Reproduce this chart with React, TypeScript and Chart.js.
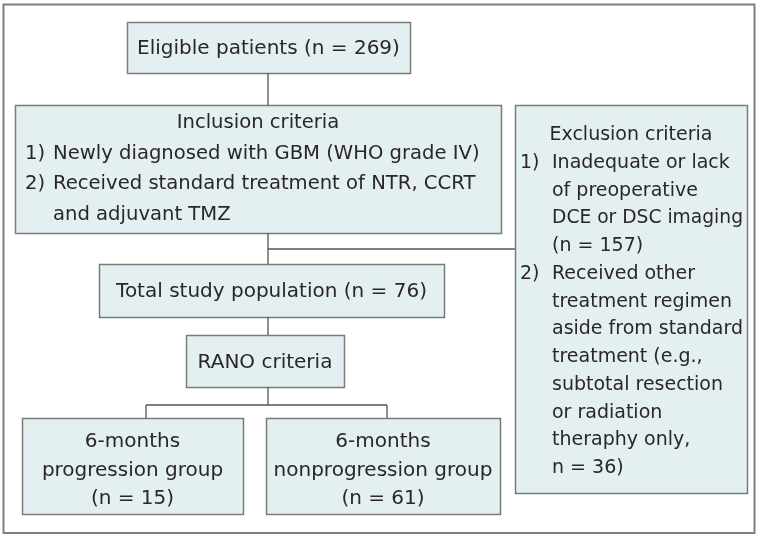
import React, { useEffect, useRef } from "react";
import { Chart, registerables } from "chart.js";

Chart.register(...registerables);

// ---- Content (text of the flowchart) ----
const eligibleLines = ["Eligible patients (n = 269)"];
const inclusionTitle = "Inclusion criteria";
const inclusionNumbers = ["1)", "2)"];
const inclusionItems = [
  ["Newly diagnosed with GBM (WHO grade IV)"],
  ["Received standard treatment of NTR, CCRT", "and adjuvant TMZ"],
];
const exclusionTitle = "Exclusion criteria";
const exclusionNumbers = ["1)", "2)"];
const exclusionItems = [
  ["Inadequate or lack", "of preoperative", "DCE or DSC imaging", "(n = 157)"],
  [
    "Received other",
    "treatment regimen",
    "aside from standard",
    "treatment (e.g.,",
    "subtotal resection",
    "or radiation",
    "theraphy only,",
    "n = 36)",
  ],
];
const totalLines = ["Total study population (n = 76)"];
const ranoLines = ["RANO criteria"];
const progressionLines = ["6-months", "progression group", "(n = 15)"];
const nonprogressionLines = ["6-months", "nonprogression group", "(n = 61)"];

// ---- Layout (in page units, mapped through the chart's scales) ----
const W = 761;
const H = 539;
const FRAME = { x0: 3.5, y0: 4.5, x1: 754.5, y1: 533 };
const BOX = {
  eligible: { x0: 127, y0: 22, x1: 410, y1: 73 },
  inclusion: { x0: 15, y0: 105, x1: 501, y1: 233 },
  exclusion: { x0: 515, y0: 105, x1: 747, y1: 493 },
  total: { x0: 99, y0: 264, x1: 444, y1: 317 },
  rano: { x0: 186, y0: 335, x1: 344, y1: 387 },
  progression: { x0: 22, y0: 418, x1: 243, y1: 514 },
  nonprogression: { x0: 266, y0: 418, x1: 500, y1: 514 },
};
const TRUNK_X = 268;
const EXCL_LINK_Y = 249;
const SPLIT_Y = 405;
const LEFT_BRANCH_X = 146;
const RIGHT_BRANCH_X = 387;

const FONT_FAMILY = "'DejaVu Sans', sans-serif";
const FONT_SIZE = 20;
const TEXT_COLOR = "#2b2627";
const BOX_FILL = "#e3eff1";
const BOX_BORDER = "#7b7b7b";
const LINE_COLOR = "#555555";
const FRAME_COLOR = "#808080";

const segments = [
  [
    { x: TRUNK_X, y: BOX.eligible.y1 },
    { x: TRUNK_X, y: BOX.inclusion.y0 },
  ],
  [
    { x: TRUNK_X, y: BOX.inclusion.y1 },
    { x: TRUNK_X, y: BOX.total.y0 },
  ],
  [
    { x: TRUNK_X, y: EXCL_LINK_Y },
    { x: BOX.exclusion.x0, y: EXCL_LINK_Y },
  ],
  [
    { x: TRUNK_X, y: BOX.total.y1 },
    { x: TRUNK_X, y: BOX.rano.y0 },
  ],
  [
    { x: TRUNK_X, y: BOX.rano.y1 },
    { x: TRUNK_X, y: SPLIT_Y },
  ],
  [
    { x: LEFT_BRANCH_X, y: SPLIT_Y },
    { x: RIGHT_BRANCH_X, y: SPLIT_Y },
  ],
  [
    { x: LEFT_BRANCH_X, y: SPLIT_Y },
    { x: LEFT_BRANCH_X, y: BOX.progression.y0 },
  ],
  [
    { x: RIGHT_BRANCH_X, y: SPLIT_Y },
    { x: RIGHT_BRANCH_X, y: BOX.nonprogression.y0 },
  ],
];

type Block =
  | { kind: "center"; lines: string[]; cx: number; base: number; lh: number; size: number }
  | {
      kind: "list";
      title: string;
      titleCx: number;
      numbers: string[];
      items: string[][];
      numX: number;
      textX: number;
      maxX: number;
      base: number;
      lh: number;
      size: number;
    };

const blocks: Block[] = [
  { kind: "center", lines: eligibleLines, cx: 268.5, base: 54, lh: 28, size: FONT_SIZE },
  {
    kind: "list",
    title: inclusionTitle,
    titleCx: 258,
    numbers: inclusionNumbers,
    items: inclusionItems,
    numX: 25,
    textX: 53,
    maxX: BOX.inclusion.x1 - 6,
    base: 128,
    lh: 30.5,
    size: 19.6,
  },
  {
    kind: "list",
    title: exclusionTitle,
    titleCx: 631,
    numbers: exclusionNumbers,
    items: exclusionItems,
    numX: 520,
    textX: 552,
    maxX: BOX.exclusion.x1 - 4,
    base: 140,
    lh: 27.75,
    size: 19,
  },
  { kind: "center", lines: totalLines, cx: 271.5, base: 297, lh: 28, size: FONT_SIZE },
  { kind: "center", lines: ranoLines, cx: 265, base: 368, lh: 28, size: FONT_SIZE },
  { kind: "center", lines: progressionLines, cx: 132.5, base: 447, lh: 28.5, size: FONT_SIZE },
  { kind: "center", lines: nonprogressionLines, cx: 383, base: 447, lh: 28.5, size: FONT_SIZE },
];

const flowPlugin = {
  id: "flowchart",
  beforeDatasetsDraw(chart: any) {
    const ctx = chart.ctx as CanvasRenderingContext2D;
    const xs = chart.scales.x;
    const ys = chart.scales.y;
    const px = (v: number) => xs.getPixelForValue(v);
    const py = (v: number) => ys.getPixelForValue(v);
    ctx.save();
    // frame
    ctx.strokeStyle = FRAME_COLOR;
    ctx.lineWidth = 2;
    ctx.strokeRect(px(FRAME.x0), py(FRAME.y0), px(FRAME.x1) - px(FRAME.x0), py(FRAME.y1) - py(FRAME.y0));
    // boxes
    Object.values(BOX).forEach((b) => {
      const x = px(b.x0) + 0.5;
      const y = py(b.y0) + 0.5;
      const w = px(b.x1) - px(b.x0);
      const h = py(b.y1) - py(b.y0);
      ctx.fillStyle = BOX_FILL;
      ctx.fillRect(x, y, w, h);
      ctx.strokeStyle = BOX_BORDER;
      ctx.lineWidth = 1.5;
      ctx.strokeRect(x, y, w, h);
    });
    // text
    ctx.fillStyle = TEXT_COLOR;
    ctx.textBaseline = "alphabetic";
    blocks.forEach((bl) => {
      ctx.font = `${bl.size}px ${FONT_FAMILY}`;
      if (bl.kind === "center") {
        ctx.textAlign = "center";
        bl.lines.forEach((t, i) => ctx.fillText(t, px(bl.cx), py(bl.base + i * bl.lh)));
      } else {
        ctx.textAlign = "center";
        ctx.fillText(bl.title, px(bl.titleCx), py(bl.base));
        ctx.textAlign = "left";
        const maxW = px(bl.maxX) - px(bl.textX);
        let row = 1;
        bl.items.forEach((item, k) => {
          ctx.fillText(bl.numbers[k], px(bl.numX), py(bl.base + row * bl.lh));
          item.forEach((t) => {
            ctx.fillText(t, px(bl.textX), py(bl.base + row * bl.lh), maxW);
            row++;
          });
        });
      }
    });
    ctx.restore();
  },
};

export default function App() {
  const ref = useRef<HTMLCanvasElement | null>(null);
  useEffect(() => {
    if (!ref.current) return;
    const chart = new Chart(ref.current, {
      type: "scatter",
      data: {
        datasets: segments.map((seg) => ({
          data: seg,
          showLine: true,
          borderColor: LINE_COLOR,
          borderWidth: 1.3,
          pointRadius: 0,
          pointHoverRadius: 0,
          fill: false,
        })),
      },
      options: {
        animation: false,
        responsive: false,
        devicePixelRatio: 1,
        layout: { padding: 0 },
        plugins: { legend: { display: false }, tooltip: { enabled: false }, title: { display: false } },
        events: [],
        scales: {
          x: { type: "linear", min: 0, max: W, display: false },
          y: { type: "linear", min: 0, max: H, reverse: true, display: false },
        },
      },
      plugins: [flowPlugin],
    });
    return () => chart.destroy();
  }, []);
  return (
    <div style={{ position: "fixed", left: 0, top: 0, width: W, height: H, background: "#fff" }}>
      <canvas ref={ref} width={W} height={H} style={{ display: "block", width: W, height: H }} />
    </div>
  );
}
